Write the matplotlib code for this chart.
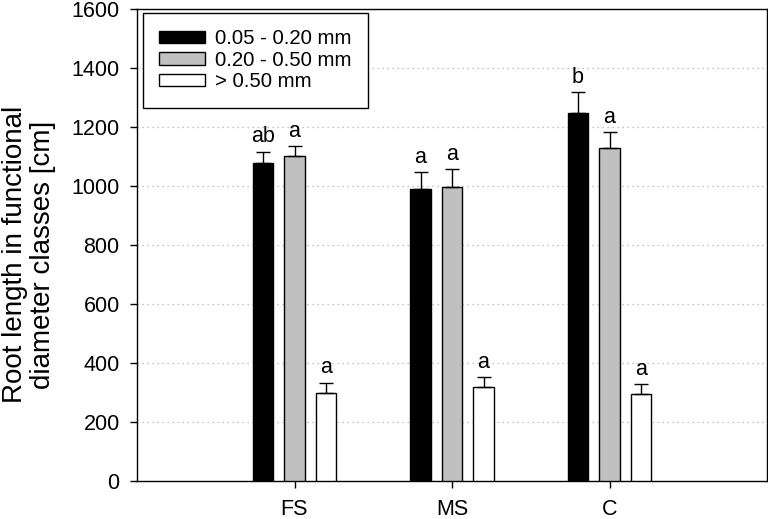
import matplotlib
matplotlib.use("Agg")
import matplotlib.pyplot as plt
import numpy as np

plt.rcParams['font.family'] = ['Liberation Sans', 'DejaVu Sans']

categories = ["FS", "MS", "C"]
series_labels = ["0.05 - 0.20 mm", "0.20 - 0.50 mm", "> 0.50 mm"]
fine = [1077, 989, 1247]
fine_err = [40, 59, 73]
medium = [1102, 997, 1130]
medium_err = [34, 61, 53]
coarse = [299, 317, 294]
coarse_err = [34, 36, 34]
letters_fine = ["ab", "a", "b"]
letters_medium = ["a", "a", "a"]
letters_coarse = ["a", "a", "a"]

values = [fine, medium, coarse]
errors = [fine_err, medium_err, coarse_err]
letters = [letters_fine, letters_medium, letters_coarse]
colors = ["#000000", "#c0c0c0", "#ffffff"]

fig = plt.figure(figsize=(7.68, 5.19), dpi=100)
ax = fig.add_axes([137/768, 1-480.7/519, 630/768, (480.7-9.3)/519])

x = np.arange(1, len(categories)+1)
offsets = [-0.2, 0.0, 0.2]
width = 0.127
for vals, errs, lets, col, off, lab in zip(values, errors, letters, colors, offsets, series_labels):
    ax.bar(x+off, vals, width, color=col, edgecolor="black", linewidth=1.0, label=lab, zorder=3)
    ax.errorbar(x+off, vals, yerr=[np.zeros(len(vals)), errs], fmt="none",
                ecolor="black", elinewidth=1.0, capsize=4.7, capthick=1.0, zorder=4)
    for xi, v, e, l in zip(x+off, vals, errs, lets):
        ax.text(xi, v+e+14, l, ha="center", va="bottom", fontsize=15.5)

ax.set_xlim(0, 4)
ax.set_ylim(0, 1600)
ax.set_xticks(x)
ax.set_xticklabels(categories, fontsize=15.5)
ax.set_yticks(np.arange(0, 1601, 200))
ax.tick_params(axis="y", labelsize=15.5, direction="out", length=5, width=1, pad=7.5)
ax.tick_params(axis="x", direction="out", length=5, width=1, pad=8.5)
for g in np.arange(200, 1600, 200):
    ax.axhline(g, color="#b0b0b0", linestyle=(0, (1, 3)), linewidth=0.9, zorder=1)
for s in ax.spines.values():
    s.set_linewidth(1.0)

ax.set_ylabel("Root length in functional\ndiameter classes [cm]", fontsize=20, linespacing=1.12)
ax.yaxis.set_label_coords(-0.128, 0.48)

leg = ax.legend(loc="upper left", bbox_to_anchor=(0.009, 0.992), fontsize=14.7,
                frameon=True, fancybox=False, edgecolor="black", framealpha=1,
                handlelength=2.25, handleheight=0.55, handletextpad=0.5,
                labelspacing=0.12, borderpad=0.8, borderaxespad=0)
leg.get_frame().set_linewidth(1.0)

fig.savefig("out.png", dpi=100)
